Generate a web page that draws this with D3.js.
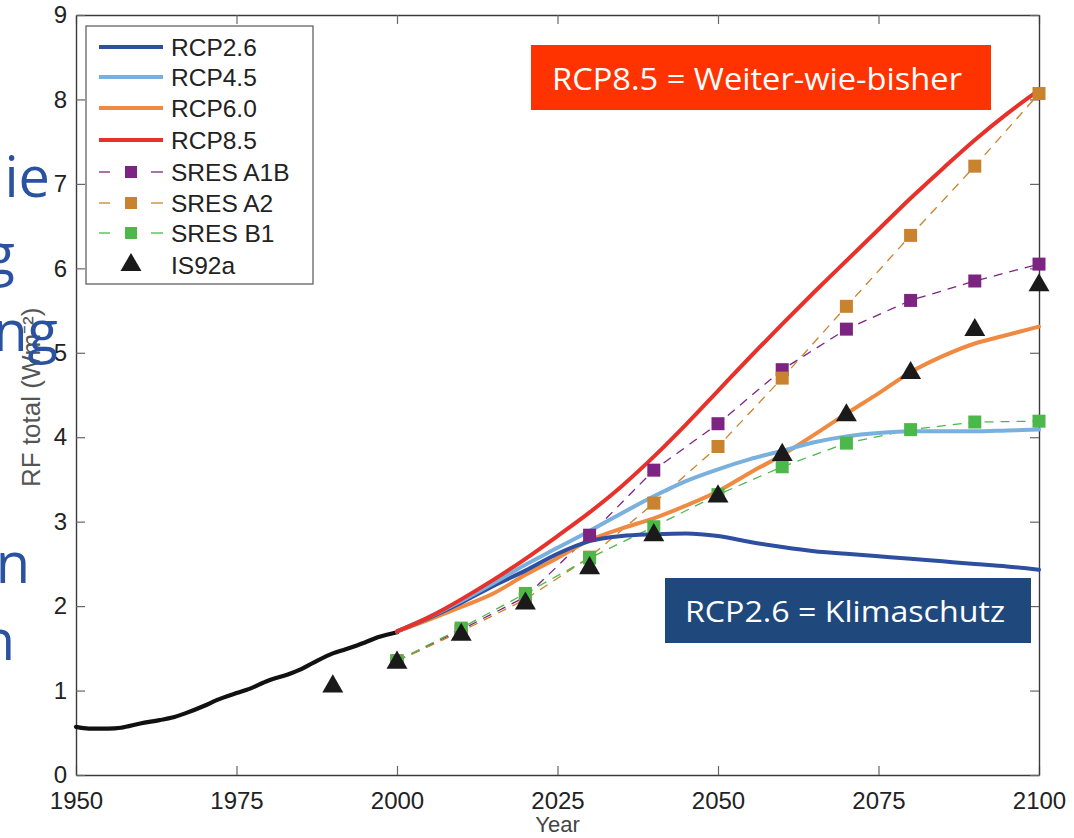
<!DOCTYPE html>
<html><head><meta charset="utf-8">
<script src="https://cdn.jsdelivr.net/npm/d3@7"></script>
<style>body{margin:0;background:#fff}svg{display:block}</style>
</head><body><svg id="c" width="1074" height="838"></svg>
<script>
const histYears = [1950,1952,1955,1957,1960,1963,1965,1967,1970,1972,1975,1977,1980,1983,1985,1987,1990,1992,1995,1997,2000];
const histValues = [0.57,0.55,0.55,0.56,0.61,0.65,0.68,0.73,0.82,0.89,0.97,1.02,1.12,1.19,1.25,1.33,1.44,1.49,1.57,1.63,1.69];

const rcpYears = [2000,2005,2010,2015,2020,2025,2030,2035,2040,2045,2050,2055,2060,2065,2070,2075,2080,2085,2090,2095,2100];
const rcp26 = [1.70,1.86,2.04,2.24,2.42,2.62,2.77,2.83,2.85,2.86,2.83,2.76,2.70,2.65,2.62,2.59,2.56,2.53,2.50,2.47,2.43];
const rcp45 = [1.70,1.87,2.06,2.27,2.49,2.69,2.89,3.10,3.30,3.48,3.62,3.74,3.84,3.94,4.01,4.05,4.07,4.07,4.07,4.08,4.09];
const rcp60 = [1.70,1.84,1.99,2.15,2.37,2.57,2.78,2.92,3.04,3.19,3.36,3.58,3.79,4.03,4.28,4.52,4.77,4.96,5.11,5.21,5.31];
const rcp85 = [1.70,1.87,2.08,2.31,2.56,2.83,3.11,3.42,3.77,4.15,4.55,4.95,5.34,5.72,6.09,6.46,6.83,7.18,7.52,7.83,8.11];

const sresYears = [2000,2010,2020,2030,2040,2050,2060,2070,2080,2090,2100];
const sresA1B = [1.35,1.72,2.11,2.84,3.61,4.16,4.80,5.28,5.62,5.85,6.05];
const sresA2  = [1.35,1.70,2.08,2.58,3.22,3.89,4.70,5.55,6.39,7.21,8.07];
const sresB1  = [1.35,1.74,2.15,2.57,2.94,3.32,3.65,3.93,4.09,4.18,4.19];

const is92Years = [1990,2000,2010,2020,2030,2040,2050,2060,2070,2080,2090,2100];
const is92a = [1.05,1.33,1.66,2.03,2.45,2.84,3.30,3.79,4.26,4.76,5.27,5.80];

const xTicks = [1950,1975,2000,2025,2050,2075,2100];
const yTicks = [0,1,2,3,4,5,6,7,8,9];
const legendLabels = ["RCP2.6","RCP4.5","RCP6.0","RCP8.5","SRES A1B","SRES A2","SRES B1","IS92a"];
const slideLines = ["die","g","ng","","","n","n"];

(function(){
const C = {rcp26:"#2e4f9f", rcp45:"#79b0de", rcp60:"#f08a42", rcp85:"#e6322b", a1b:"#7d2483", a2:"#c9822d", b1:"#4cb84a"};

const svg = d3.select("#c");
const L=76, R=1039, T=15, B=775;
const x = d3.scaleLinear().domain([1950,2100]).range([L,R]);
const y = d3.scaleLinear().domain([0,9]).range([B,T]);
const font = "'Liberation Sans', Arial, sans-serif";

const g = svg.append("g");
const axCol="#3a3a3a";
const axB = d3.axisBottom(x).tickValues(xTicks).tickFormat(d3.format("d")).tickSizeInner(-9).tickSizeOuter(0).tickPadding(17);
const axT = d3.axisTop(x).tickValues(xTicks).tickFormat("").tickSizeInner(-9).tickSizeOuter(0);
const axL = d3.axisLeft(y).tickValues(yTicks).tickFormat(d3.format("d")).tickSizeInner(-9).tickSizeOuter(0).tickPadding(9);
const axR = d3.axisRight(y).tickValues(yTicks).tickFormat("").tickSizeInner(-9).tickSizeOuter(0);
function style(sel){sel.selectAll("path").attr("stroke",axCol).attr("stroke-width",1.4);
  sel.selectAll("line").attr("stroke","#666").attr("stroke-width",1.2);
  sel.selectAll("text").attr("font-family",font).attr("font-size",24).attr("fill","#222");}
g.append("g").attr("transform",`translate(0,${B})`).call(axB).call(style);
g.append("g").attr("transform",`translate(0,${T})`).call(axT).call(style);
g.append("g").attr("transform",`translate(${L},0)`).call(axL).call(style);
g.append("g").attr("transform",`translate(${R},0)`).call(axR).call(style);

svg.append("text").attr("x",(L+R)/2).attr("y",832).attr("text-anchor","middle")
  .attr("font-family",font).attr("font-size",22).attr("fill","#444").text("Year");
svg.append("text").attr("transform","translate(40,487) rotate(-90)").attr("text-anchor","start")
  .attr("font-family",font).attr("font-size",26).attr("fill","#555").text("RF total (Wm\u207B\u00B2)");

const lineGen = (xs, curve) => d3.line().x((d,i)=>x(xs[i])).y(d=>y(d)).curve(curve);
const plot = svg.append("g");
[[sresA1B,C.a1b],[sresA2,C.a2],[sresB1,C.b1]].forEach(([v,c])=>{
  plot.append("path").attr("d",lineGen(sresYears,d3.curveLinear)(v)).attr("fill","none")
    .attr("stroke",c).attr("stroke-width",1.3).attr("stroke-dasharray","9,7");
});
plot.append("path").attr("d",lineGen(histYears,d3.curveMonotoneX)(histValues)).attr("fill","none")
  .attr("stroke","#111").attr("stroke-width",4.2).attr("stroke-linecap","round");
[[rcp60,C.rcp60],[rcp26,C.rcp26],[rcp45,C.rcp45],[rcp85,C.rcp85]].forEach(([v,c])=>{
  plot.append("path").attr("d",lineGen(rcpYears,d3.curveMonotoneX)(v)).attr("fill","none")
    .attr("stroke",c).attr("stroke-width",4).attr("stroke-linecap","round");
});
const sq=13;
[[sresA1B,C.a1b],[sresA2,C.a2],[sresB1,C.b1]].forEach(([v,c])=>{
  plot.selectAll(null).data(v).enter().append("rect")
    .attr("x",(d,i)=>x(sresYears[i])-sq/2).attr("y",d=>y(d)-sq/2).attr("width",sq).attr("height",sq).attr("fill",c);
});
const tri = d3.symbol().type(d3.symbolTriangle).size(190);
plot.selectAll(null).data(is92a).enter().append("path")
  .attr("d",tri).attr("transform",(d,i)=>`translate(${x(is92Years[i])},${y(d)})`).attr("fill","#1a1a1a");

const lg = svg.append("g");
lg.append("rect").attr("x",86).attr("y",26).attr("width",227).attr("height",258).attr("fill","#fff").attr("stroke","#555").attr("stroke-width",1.2);
const rows=[47,77,108,140,172,203,233,265];
const legStyles=[["line",C.rcp26],["line",C.rcp45],["line",C.rcp60],["line",C.rcp85],["sq",C.a1b],["sq",C.a2],["sq",C.b1],["tri","#1a1a1a"]];
legStyles.forEach(([t,c],i)=>{
  const yy=rows[i];
  if(t==="line") lg.append("line").attr("x1",99).attr("x2",163).attr("y1",yy).attr("y2",yy).attr("stroke",c).attr("stroke-width",4);
  if(t==="sq"){
    lg.append("line").attr("x1",99).attr("x2",110).attr("y1",yy).attr("y2",yy).attr("stroke",c).attr("stroke-width",1.3);
    lg.append("line").attr("x1",151).attr("x2",163).attr("y1",yy).attr("y2",yy).attr("stroke",c).attr("stroke-width",1.3);
    lg.append("rect").attr("x",131-6).attr("y",yy-6).attr("width",12).attr("height",12).attr("fill",c);
  }
  if(t==="tri") lg.append("path").attr("d",tri).attr("transform",`translate(131,${yy})`).attr("fill",c);
  lg.append("text").attr("x",171).attr("y",yy+9).attr("font-family",font).attr("font-size",24.5).attr("fill","#222").text(legendLabels[i]);
});

const sans="'Open Sans', 'Noto Sans', sans-serif";
svg.append("rect").attr("x",531).attr("y",45).attr("width",460).attr("height",65).attr("fill","#ff3300");
svg.append("text").attr("x",757).attr("y",90).attr("text-anchor","middle").attr("font-family",sans).attr("font-size",31)
  .attr("fill","#fff").attr("textLength",410).attr("lengthAdjust","spacingAndGlyphs").text("RCP8.5 = Weiter-wie-bisher");
svg.append("rect").attr("x",665).attr("y",578).attr("width",366).attr("height",65).attr("fill","#1f497d");
svg.append("text").attr("x",845).attr("y",622).attr("text-anchor","middle").attr("font-family",sans).attr("font-size",30)
  .attr("fill","#fff").attr("textLength",320).attr("lengthAdjust","spacingAndGlyphs").text("RCP2.6 = Klimaschutz");

const slideRight=[50,15,58,0,0,30,15];
slideLines.forEach((s,i)=>{
  if(!s) return;
  svg.append("text").attr("x",slideRight[i]).attr("y",197+i*77.2).attr("text-anchor","end")
    .attr("font-family",sans).attr("font-size",56).attr("fill","#2a52a0").text(s);
});
})();
</script></body></html>
